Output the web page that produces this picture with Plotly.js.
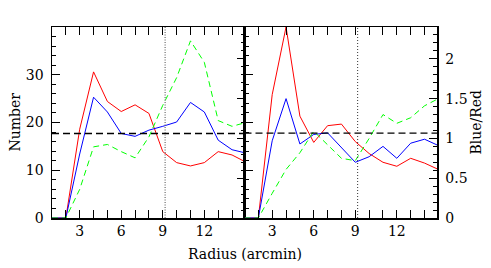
<!DOCTYPE html>
<html>
<head>
<meta charset="utf-8">
<script src="https://cdn.plot.ly/plotly-3.0.1.min.js"></script>
<style>html,body{margin:0;padding:0;background:#fff;}#chart{width:491px;height:268px;}</style>
</head>
<body>
<div id="chart"></div>
<script>
// ---- data ----
const radius     = [1, 2, 3, 4, 5, 6, 7, 8, 9, 10, 11, 12, 13, 14, 15];
// left panel: Number
const numRed     = [0, 0, 18.6, 30.6, 24.4, 22.3, 23.7, 21.9, 13.9, 11.6, 10.9, 11.6, 13.9, 13.2, 11.7];
const numBlue    = [0, 0, 13.4, 25.3, 22.2, 17.7, 17.1, 18.4, 19.2, 20.1, 24.2, 22.2, 16.3, 14.3, 13.6];
const numGreen   = [0, 0, 6.0, 14.9, 15.4, 13.9, 12.6, 17.0, 23.6, 29.4, 37.1, 32.6, 20.4, 19.2, 20.0];
// right panel: Blue/Red
const ratioRed   = [0, 0, 1.55, 2.40, 1.28, 0.95, 1.16, 1.18, 0.96, 0.81, 0.70, 0.65, 0.75, 0.69, 0.61];
const ratioBlue  = [0, 0, 0.97, 1.50, 0.93, 1.05, 1.07, 0.88, 0.70, 0.77, 0.90, 0.75, 0.94, 0.99, 0.91];
const ratioGreen = [0, 0, 0.31, 0.61, 0.82, 1.09, 0.92, 0.75, 0.72, 1.00, 1.30, 1.19, 1.26, 1.41, 1.50];
// reference levels
const meanNumber = 17.7;
const meanRatio  = 1.067;
const markRadius = 9.17;
const xTickVals  = [3, 6, 9, 12];
const numTickVals   = [0, 10, 20, 30];
const ratioTickVals = [0, 0.5, 1, 1.5, 2];
const ratioTickText = ['0', '0.5', '1', '1.5', '2'];

const RED = '#ff0000', BLUE = '#0000ff', GREEN = '#00ff00';
const FONT = 'DejaVu Serif';

function tr(x, y, color, dash, xa, ya) {
  return {x: x, y: y, type: 'scatter', mode: 'lines', xaxis: xa, yaxis: ya,
          line: {color: color, width: 1, dash: dash}, hoverinfo: 'skip', showlegend: false};
}

const data = [
  tr(radius, numRed, RED, 'solid', 'x', 'y'),
  tr(radius, numBlue, BLUE, 'solid', 'x', 'y'),
  tr(radius, numGreen, GREEN, '6px,4px', 'x', 'y'),
  tr(radius, ratioRed, RED, 'solid', 'x2', 'y2'),
  tr(radius, ratioBlue, BLUE, 'solid', 'x2', 'y2'),
  tr(radius, ratioGreen, GREEN, '6px,4px', 'x2', 'y2'),
  // empty traces so the overlay axes exist
  {x: [], y: [], xaxis: 'x', yaxis: 'y3', type: 'scatter', showlegend: false},
  {x: [], y: [], xaxis: 'x2', yaxis: 'y4', type: 'scatter', showlegend: false}
];

const xBase = {
  range: [1, 14.9], tickvals: xTickVals, ticks: 'inside', ticklen: 8, tickwidth: 1,
  tickcolor: '#000', showline: true, linecolor: '#000', linewidth: 1.5, mirror: 'allticks',
  showgrid: false, zeroline: false,
  minor: {dtick: 1, tick0: 0, ticks: 'inside', ticklen: 4, tickwidth: 1, tickcolor: '#000', showgrid: false},
  tickfont: {family: FONT, size: 14, color: '#000'}
};
const yNum = {
  range: [0, 40], tickvals: numTickVals, ticks: 'inside', ticklen: 8, tickwidth: 1, tickcolor: '#000',
  showline: true, linecolor: '#000', linewidth: 1.5, showgrid: false, zeroline: false,
  minor: {dtick: 2, tick0: 0, ticks: 'inside', ticklen: 4, tickwidth: 1, tickcolor: '#000', showgrid: false},
  tickfont: {family: FONT, size: 14, color: '#000'}
};
const yRat = {
  range: [0, 2.4], tickvals: ratioTickVals, ticktext: ratioTickText, ticks: 'inside', ticklen: 8,
  tickwidth: 1, tickcolor: '#000',
  showline: true, linecolor: '#000', linewidth: 1.5, showgrid: false, zeroline: false,
  minor: {dtick: 0.1, tick0: 0, ticks: 'inside', ticklen: 4, tickwidth: 1, tickcolor: '#000', showgrid: false},
  tickfont: {family: FONT, size: 14, color: '#000'}
};

const layout = {
  width: 491, height: 268,
  margin: {l: 52, r: 54, t: 27, b: 50, pad: 0},
  paper_bgcolor: '#fff', plot_bgcolor: 'rgba(0,0,0,0)',
  font: {family: FONT, size: 14, color: '#000'},
  showlegend: false,
  xaxis: Object.assign({}, xBase, {domain: [0, 0.5], anchor: 'y'}),
  xaxis2: Object.assign({}, xBase, {domain: [0.5, 1], anchor: 'y2'}),
  yaxis: Object.assign({}, yNum, {anchor: 'x', side: 'left', ticklabelstandoff: 4}),
  yaxis3: Object.assign({}, yRat, {anchor: 'x', overlaying: 'y', side: 'right', showticklabels: false}),
  yaxis2: Object.assign({}, yRat, {anchor: 'x2', side: 'right', ticklabelstandoff: 4}),
  yaxis4: Object.assign({}, yNum, {anchor: 'x2', overlaying: 'y2', side: 'left', showticklabels: false}),
  shapes: [
    {type: 'line', xref: 'x domain', yref: 'y', x0: 0, x1: 1, y0: meanNumber, y1: meanNumber,
     line: {color: '#000', width: 1.3, dash: '7px,4px'}},
    {type: 'line', xref: 'x2 domain', yref: 'y2', x0: 0, x1: 1, y0: meanRatio, y1: meanRatio,
     line: {color: '#000', width: 1.3, dash: '7px,4px'}},
    {type: 'line', xref: 'x', yref: 'y domain', x0: markRadius, x1: markRadius, y0: 0, y1: 1,
     line: {color: '#888', width: 1.5, dash: '1px,1.5px'}},
    {type: 'line', xref: 'x2', yref: 'y2 domain', x0: markRadius, x1: markRadius, y0: 0, y1: 1,
     line: {color: '#333', width: 1, dash: '1px,2px'}}
  ],
  annotations: [
    {text: 'Radius (arcmin)', xref: 'paper', yref: 'paper', x: 0.5, y: 0, yshift: -36,
     xanchor: 'center', yanchor: 'middle', showarrow: false,
     font: {family: FONT, size: 14, color: '#000'}},
    {text: 'Number', xref: 'paper', yref: 'paper', x: (14 - 52) / 385, y: 0.5, textangle: -90,
     xanchor: 'center', yanchor: 'middle', showarrow: false,
     font: {family: FONT, size: 14, color: '#000'}},
    {text: 'Blue/Red', xref: 'paper', yref: 'paper', x: (475 - 52) / 385, y: 0.5, textangle: -90,
     xanchor: 'center', yanchor: 'middle', showarrow: false,
     font: {family: FONT, size: 14, color: '#000'}}
  ]
};

Plotly.newPlot('chart', data, layout, {staticPlot: true, displayModeBar: false});
</script>
</body>
</html>
